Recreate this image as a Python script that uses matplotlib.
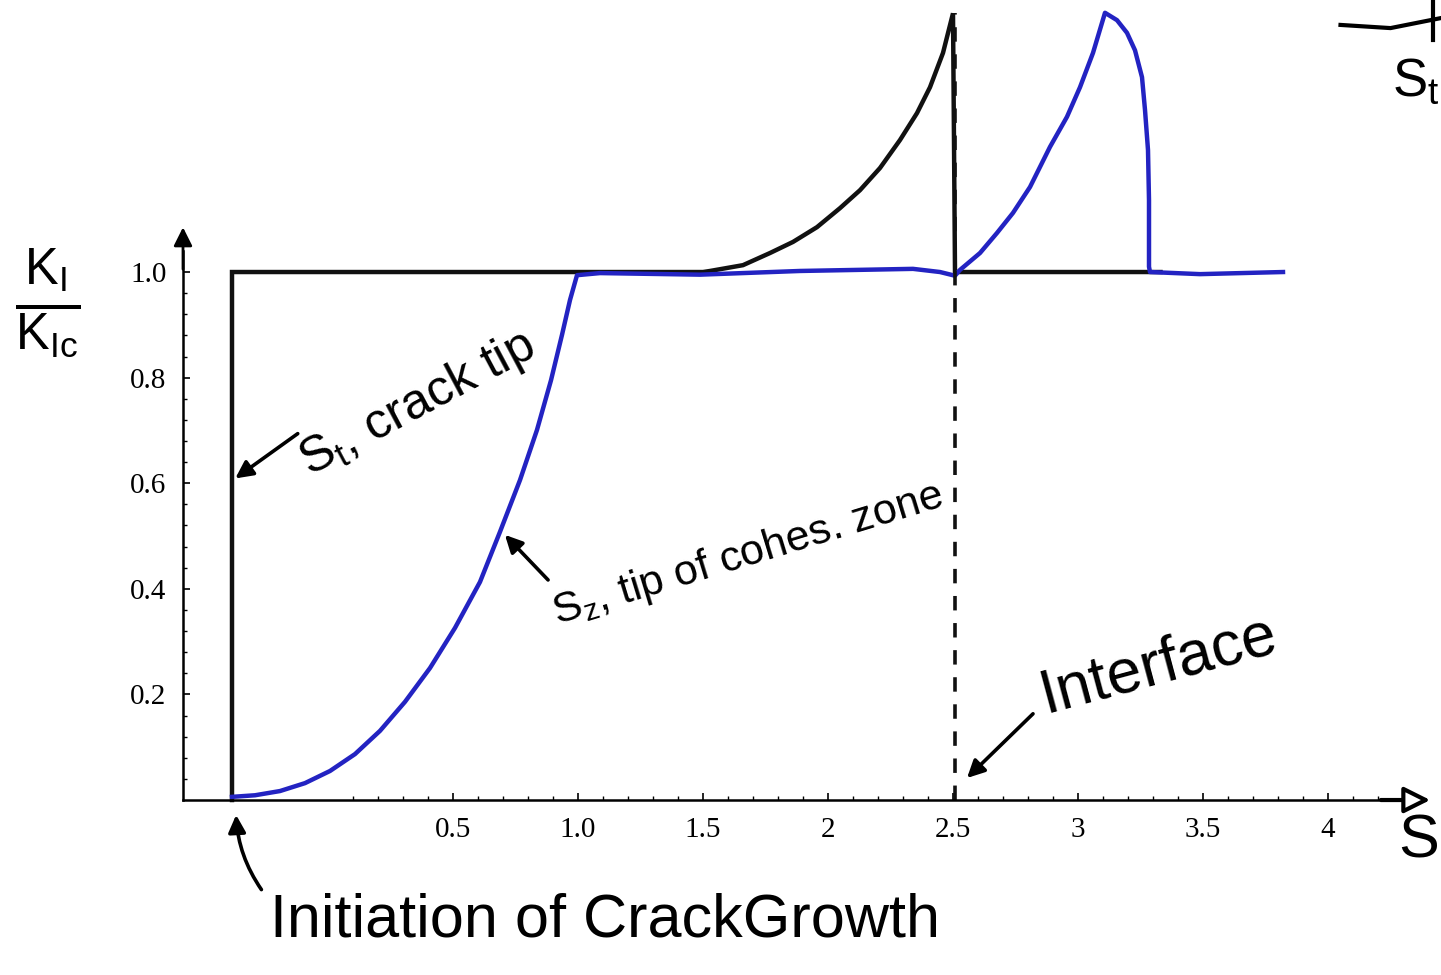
import numpy as np
import matplotlib
matplotlib.use("Agg")
import matplotlib.pyplot as plt
from matplotlib.ticker import FixedLocator

# crack tip S_t (black) : normalised K_I / K_Ic against S
tip_s = [-0.384, -0.384, 1.50, 1.528, 1.66, 1.768, 1.86, 1.956, 2.048, 2.128,
         2.208, 2.288, 2.356, 2.408, 2.46, 2.50, 2.508, 3.33]
tip_k = [0.0, 1.0, 1.0, 1.002, 1.013, 1.036, 1.057, 1.085, 1.121, 1.155,
         1.197, 1.25, 1.301, 1.35, 1.415, 1.49, 1.0, 1.0]

# tip of cohesive zone S_z (blue)
zone_s = [-0.384, -0.292, -0.192, -0.092, 0.008, 0.108, 0.208, 0.308, 0.408,
          0.508, 0.608, 0.688, 0.768, 0.836, 0.892, 0.936, 0.968, 0.996,
          1.088, 1.488, 1.888, 2.34, 2.448, 2.508, 2.528, 2.608, 2.676, 2.74,
          2.808, 2.888, 2.956, 3.008, 3.06, 3.108, 3.156, 3.196, 3.228, 3.256,
          3.268, 3.28, 3.284, 3.284, 3.288, 3.488, 3.82]
zone_k = [0.006, 0.009, 0.017, 0.032, 0.055, 0.087, 0.131, 0.186, 0.250,
          0.326, 0.413, 0.508, 0.606, 0.701, 0.795, 0.881, 0.947, 0.994,
          0.998, 0.995, 1.002, 1.006, 1.0, 0.993, 1.004, 1.036, 1.074, 1.112,
          1.161, 1.237, 1.294, 1.35, 1.415, 1.491, 1.477, 1.453, 1.42, 1.369,
          1.307, 1.231, 1.136, 1.01, 1.0, 0.996, 1.0]

interface_s = 2.508
interface_top = 1.49

x_ticks = [0.5, 1.0, 1.5, 2.0, 2.5, 3.0, 3.5, 4.0]
x_labels = ["0.5", "1.0", "1.5", "2", "2.5", "3", "3.5", "4"]
y_ticks = [0.2, 0.4, 0.6, 0.8, 1.0]
y_labels = ["0.2", "0.4", "0.6", "0.8", "1.0"]

hand = "Liberation Sans"
plt.rcParams["mathtext.default"] = "regular"

fig = plt.figure(figsize=(14.41, 9.75), dpi=100)
ax = fig.add_axes([0, 0, 1, 1])
ax.set_xlim(-1.312, 4.452)
ax.set_ylim(-0.3314, 1.5152)

ax.plot(tip_s, tip_k, color="#111111", lw=3.2, solid_joinstyle="miter")
ax.plot(zone_s, zone_k, color="#2323c2", lw=3.2)
ax.plot([interface_s, interface_s], [0, interface_top], color="#111111",
        lw=2.6, linestyle=(0, (4, 3.5)))

# Mathematica style axes crossing at the origin
ax.spines["top"].set_visible(False)
ax.spines["right"].set_visible(False)
ax.spines["left"].set_position(("data", -0.58))
ax.spines["bottom"].set_position(("data", 0))
ax.spines["left"].set_bounds(0, 1.04)
ax.spines["bottom"].set_bounds(-0.58, 4.2)
for sp in ("left", "bottom"):
    ax.spines[sp].set_linewidth(1.8)

ax.xaxis.set_major_locator(FixedLocator(x_ticks))
ax.set_xticklabels(x_labels)
ax.yaxis.set_major_locator(FixedLocator(y_ticks))
ax.set_yticklabels(y_labels)
ax.xaxis.set_minor_locator(FixedLocator(np.arange(0.1, 4.21, 0.1)))
ax.yaxis.set_minor_locator(FixedLocator(np.arange(0.04, 1.03, 0.04)))
ax.tick_params(which="major", direction="in", length=5, width=1.2,
               labelsize=21, pad=12)
ax.tick_params(which="minor", direction="in", length=3, width=1)
for lab in ax.get_xticklabels() + ax.get_yticklabels():
    lab.set_fontfamily("Liberation Serif")

# hand drawn axis arrow heads
ax.annotate("", xy=(-0.58, 1.09), xytext=(-0.58, 1.0),
            arrowprops=dict(arrowstyle="-|>", color="k", lw=2,
                            mutation_scale=28))
ax.annotate("", xy=(4.42, 0.0), xytext=(4.2, 0.0),
            arrowprops=dict(arrowstyle="-|>", fc="white", ec="k", lw=3,
                            mutation_scale=40))

ax.text(4.445, -0.08, "S", fontsize=44, family=hand, ha="right", va="center")
ax.text(-1.12, 0.94, r"$\frac{K_I}{K_{Ic}}$", fontsize=52, family=hand,
        ha="center", va="center")

arrow_kw = dict(arrowstyle="-|>", color="k", lw=2.6, mutation_scale=26)

ax.annotate("", xy=(-0.38, 0.606), xytext=(-0.112, 0.697), arrowprops=arrow_kw)
ax.text(0.36, 0.75, "$S_t$, crack tip", fontsize=36, family=hand,
        rotation=28, ha="center", va="center", rotation_mode="anchor")

ax.annotate("", xy=(0.70, 0.506), xytext=(0.888, 0.413), arrowprops=arrow_kw)
ax.text(1.68, 0.465, "$S_z$, tip of cohes. zone", fontsize=31, family=hand,
        rotation=17, ha="center", va="center", rotation_mode="anchor")

ax.annotate("", xy=(2.548, 0.038), xytext=(2.828, 0.167), arrowprops=arrow_kw)
ax.text(3.32, 0.255, "Interface", fontsize=45, family=hand,
        rotation=15, ha="center", va="center", rotation_mode="anchor")

ax.annotate("", xy=(-0.368, -0.023), xytext=(-0.26, -0.174),
            arrowprops=dict(arrow_kw, connectionstyle="arc3,rad=-0.15"))
ax.text(-0.232, -0.259, "Initiation of CrackGrowth", fontsize=44,
        family=hand, ha="left", va="baseline")

# cut-off sketch in the top right corner
ax.plot([4.05, 4.25, 4.452], [1.468, 1.462, 1.481], color="k", lw=3,
        clip_on=False)
ax.plot([4.42, 4.42], [1.439, 1.515], color="k", lw=3, clip_on=False)
ax.text(4.445, 1.36, "$S_t$", fontsize=38, family=hand, ha="right",
        va="center")

fig.savefig("out.png", dpi=100, facecolor="white")
